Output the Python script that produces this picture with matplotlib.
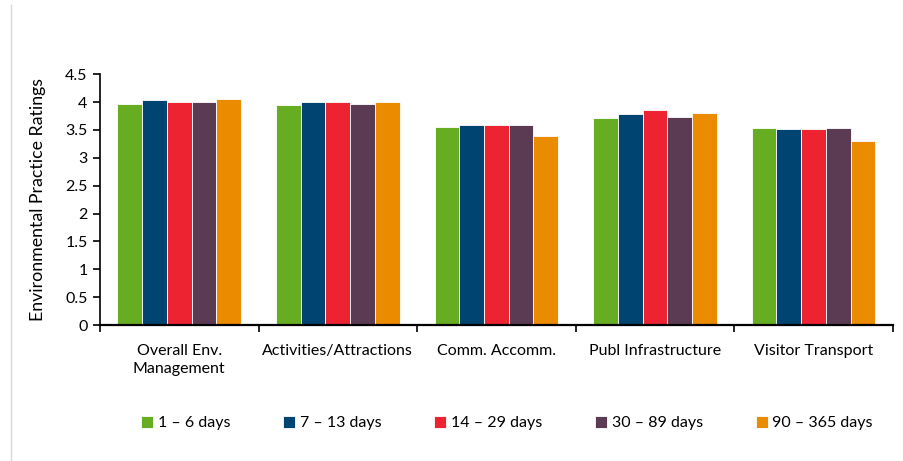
import numpy as np
import matplotlib
matplotlib.use('Agg')
import matplotlib.pyplot as plt
from matplotlib.lines import Line2D

plt.rcParams['font.family'] = ['Lato', 'DejaVu Sans']

categories = ['Overall Env.\nManagement', 'Activities/Attractions', 'Comm. Accomm.',
              'Publ Infrastructure', 'Visitor Transport']
series = ['1 – 6 days', '7 – 13 days', '14 – 29 days', '30 – 89 days', '90 – 365 days']

days_1_6 = [3.96, 3.94, 3.56, 3.72, 3.54]
days_7_13 = [4.03, 4.01, 3.58, 3.79, 3.51]
days_14_29 = [4.01, 4.01, 3.58, 3.85, 3.51]
days_30_89 = [4.01, 3.96, 3.58, 3.73, 3.53]
days_90_365 = [4.05, 4.01, 3.40, 3.80, 3.31]

values = [days_1_6, days_7_13, days_14_29, days_30_89, days_90_365]
colors = ['#66ad22', '#004471', '#ee2331', '#5b3a54', '#eb8c00']

fig = plt.figure(figsize=(9.04, 4.61), dpi=100)
ax = fig.add_axes([0.1106, 0.295, 0.877, 0.544])

x = np.arange(len(categories))
w = 0.156
for i, (vals, c, lab) in enumerate(zip(values, colors, series)):
    ax.bar(x + (i - 2) * w, vals, width=w, color=c, edgecolor='white',
           linewidth=0.6, label=lab)

ax.set_xlim(-0.5, len(categories) - 0.5)
ax.set_ylim(0, 4.5)
ax.set_yticks(np.arange(0, 4.51, 0.5))
ax.set_yticklabels(['0', '0.5', '1', '1.5', '2', '2.5', '3', '3.5', '4', '4.5'])
ax.set_xticks(x)
ax.set_xticklabels(categories, fontsize=11.5, va='top', linespacing=1.35)
ax.set_xticks(np.arange(-0.5, len(categories)), minor=True)
ax.tick_params(axis='x', which='major', length=0, pad=14)
ax.tick_params(axis='x', which='minor', length=5, width=1.2, direction='out')
ax.tick_params(axis='y', labelsize=11.5, length=5, width=1.2, pad=4)
for lab in ax.get_xticklabels():
    lab.set_multialignment('center')

ax.spines['top'].set_visible(False)
ax.spines['right'].set_visible(False)
ax.spines['left'].set_linewidth(1.2)
ax.spines['bottom'].set_linewidth(1.6)
ax.set_ylabel('Environmental Practice Ratings', fontsize=12.8, labelpad=14)

fig.legend(loc='center', bbox_to_anchor=(0.561, 0.082), ncol=5, frameon=False,
           fontsize=11.5, handlelength=0.75, handleheight=0.75, handletextpad=0.3,
           columnspacing=3.3)

# thin grey frame line at the left edge
fig.add_artist(Line2D([0.012, 0.012], [0.0, 0.99], transform=fig.transFigure,
                      color='#d9d9d9', linewidth=1))

fig.savefig('out.png', dpi=100, facecolor='white')
